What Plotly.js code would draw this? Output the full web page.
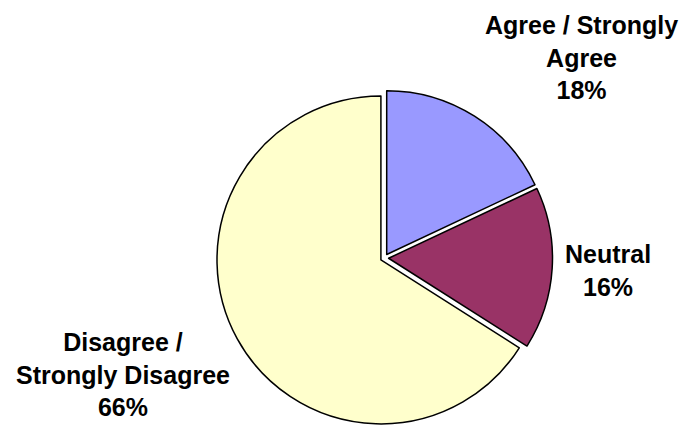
<!DOCTYPE html>
<html>
<head>
<meta charset="utf-8">
<script src="https://cdn.plot.ly/plotly-3.0.1.min.js"></script>
<style>html,body{margin:0;padding:0;background:#fff;overflow:hidden}</style>
</head>
<body>
<div id="chart" style="width:686px;height:426px"></div>
<script>
var categories = ["Agree / Strongly Agree", "Neutral", "Disagree / Strongly Disagree"];
var values = [18, 16, 66];
var labelLines = ["Agree / Strongly<br>Agree", "Neutral", "Disagree /<br>Strongly Disagree"];
var colors = ["#9999FF", "#993366", "#FFFFCC"];

var labelPos = [[0.848, 0.864], [0.886, 0.364], [0.179, 0.120]];

var annotations = categories.map(function (c, i) {
  return {
    xref: "paper", yref: "paper",
    x: labelPos[i][0], y: labelPos[i][1],
    xanchor: "center", yanchor: "middle",
    showarrow: false, align: "center",
    text: "<b>" + labelLines[i] + "<br>" + values[i] + "%</b>",
    font: {family: "Liberation Sans, Arial, sans-serif", size: 25, color: "#000"}
  };
});

var trace = {
  type: "pie",
  labels: categories,
  values: values,
  sort: false,
  direction: "clockwise",
  rotation: 0,
  pull: [0.025, 0.025, 0.025],
  marker: {colors: colors, line: {color: "#000", width: 1.5}},
  textinfo: "none",
  hoverinfo: "none",
  domain: {x: [216.5 / 686, 552.5 / 686], y: [0, 336 / 426]}
};

Plotly.newPlot("chart", [trace], {
  width: 686, height: 426,
  margin: {l: 0, r: 0, t: 0, b: 0},
  showlegend: false,
  paper_bgcolor: "#fff",
  annotations: annotations
}, {staticPlot: true});
</script>
</body>
</html>
